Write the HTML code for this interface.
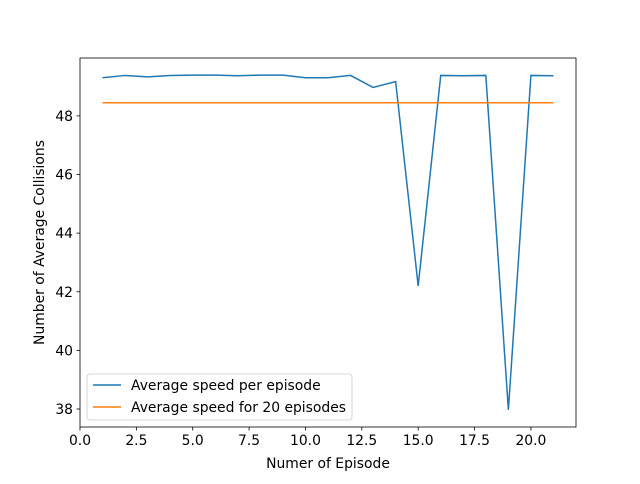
<!DOCTYPE html>
<html><head><meta charset="utf-8"><style>
body{margin:0;background:#fff;font-family:"DejaVu Sans","Liberation Sans",sans-serif;}
svg text{font-family:"DejaVu Sans","Liberation Sans",sans-serif;font-size:13.9px;fill:#000;}
</style></head><body>
<svg id="chart" width="640" height="480">
<rect width="640" height="480" fill="#fff"/>
<g id="plot"></g>
</svg>
<script>
const episodes=[1,2,3,4,5,6,7,8,9,10,11,12,13,14,15,16,17,18,19,20,21];
const speedPerEpisode=[49.3,49.38,49.33,49.38,49.39,49.39,49.37,49.39,49.39,49.3,49.3,49.38,48.97,49.17,42.2,49.38,49.37,49.38,37.97,49.38,49.37];
const avgSpeed=[48.45];
const xTicks=[0,2.5,5,7.5,10,12.5,15,17.5,20];
const yTicks=[38,40,42,44,46,48];
const L=80,R=576,T=58,B=427;
const xmin=0,xmax=22,ymin=37.386,ymax=49.975;
const xs=v=>L+(v-xmin)/(xmax-xmin)*(R-L);
const ys=v=>B-(v-ymin)/(ymax-ymin)*(B-T);
const NS="http://www.w3.org/2000/svg";
const g=document.getElementById('plot');
function mk(t,a,parent){const e=document.createElementNS(NS,t);for(const k in a)e.setAttribute(k,a[k]);(parent||g).appendChild(e);return e;}
let d=episodes.map((x,i)=>(i?'L':'M')+xs(x)+','+ys(speedPerEpisode[i])).join(' ');
let p=mk('path',{d:d,fill:'none',stroke:'#1f77b4','stroke-width':1.5});


let a=mk('line',{x1:xs(episodes[0]),x2:xs(episodes[episodes.length-1]),y1:ys(avgSpeed[0]),y2:ys(avgSpeed[0]),stroke:'#ff7f0e','stroke-width':1.5});


let fr=mk('rect',{x:L,y:T,width:R-L,height:B-T,fill:'none',stroke:'#000','stroke-width':0.8});


xTicks.forEach(v=>{const x=xs(v);
 mk('line',{x1:x,x2:x,y1:B,y2:B+3.5,stroke:'#000','stroke-width':0.8});
 const t=mk('text',{x:x,y:B+18,'text-anchor':'middle'});t.textContent=v.toFixed(1);
 
 });
yTicks.forEach(v=>{const y=ys(v);
 mk('line',{x1:L-3.5,x2:L,y1:y,y2:y,stroke:'#000','stroke-width':0.8});
 const t=mk('text',{x:L-7,y:y+5,'text-anchor':'end'});t.textContent=v;
 
 });
let xt=mk('text',{x:(L+R)/2,y:468,'text-anchor':'middle'});xt.textContent='Numer of Episode';


let yt=mk('text',{x:0,y:0,'text-anchor':'middle',transform:`translate(44,${(T+B)/2}) rotate(-90)`});yt.textContent='Number of Average Collisions';


let lg=mk('g',{});


mk('rect',{x:87,y:374,width:265,height:46,rx:3,fill:'#fff','fill-opacity':0.8,stroke:'#ccc','stroke-width':0.8},lg);
mk('line',{x1:93,x2:121,y1:385,y2:385,stroke:'#1f77b4','stroke-width':1.5},lg);
let t1=mk('text',{x:131,y:390},lg);t1.textContent='Average speed per episode';


mk('line',{x1:93,x2:121,y1:407,y2:407,stroke:'#ff7f0e','stroke-width':1.5},lg);
let t2=mk('text',{x:131,y:412},lg);t2.textContent='Average speed for 20 episodes';


</script>
</body></html>
